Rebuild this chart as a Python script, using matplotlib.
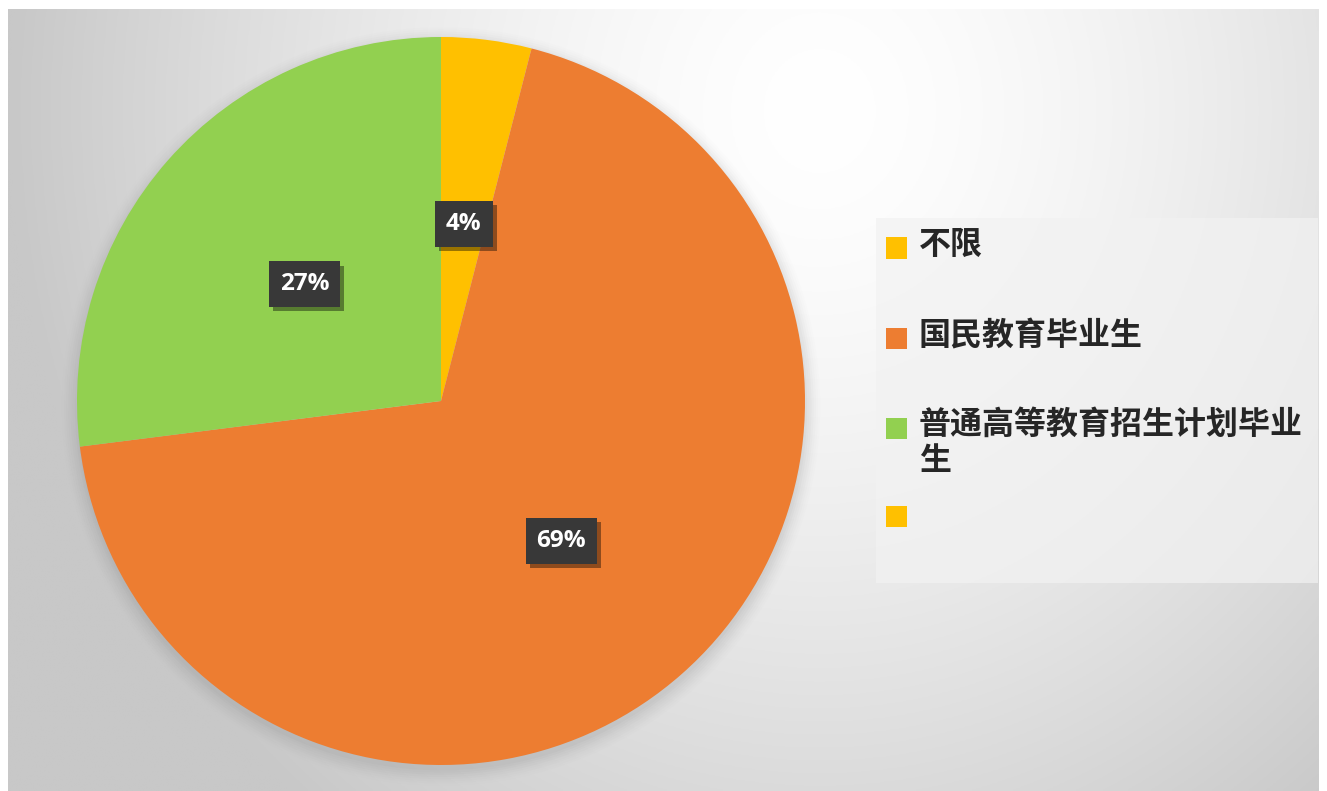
import numpy as np
import matplotlib
matplotlib.use("Agg")
import matplotlib.pyplot as plt
from matplotlib.patches import Rectangle
import matplotlib.patheffects as pe

plt.rcParams['font.family'] = ['Noto Sans CJK SC', 'DejaVu Sans']

# ---- data ----
categories = ["不限", "国民教育毕业生", "普通高等教育招生计划毕业生"]
values = [4, 69, 27]
pct_labels = ["4%", "69%", "27%"]
legend_labels = ["不限", "国民教育毕业生", "普通高等教育招生计划毕业\n生", ""]
colors = ["#FFC000", "#ED7D31", "#92D050"]
legend_colors = ["#FFC000", "#ED7D31", "#92D050", "#FFC000"]

W, H = 1327, 791
fig = plt.figure(figsize=(W / 100, H / 100), dpi=100)
fig.patch.set_facecolor("white")

# ---- background gradient (chart area) ----
x0, y0, x1, y1 = 8, 9, 1319, 791  # pixel box (top-left origin)
bg = fig.add_axes([x0 / W, 1 - y1 / H, (x1 - x0) / W, (y1 - y0) / H])
xs = np.linspace(x0, x1, 400)
ys = np.linspace(y0, y1, 300)
X, Y = np.meshgrid(xs, ys)
r = np.sqrt(((X - 820) / 740) ** 2 + ((Y - 110) / 820) ** 2)
v = 255 - 48 * np.clip(r, 0, 1.3) ** 1.5
v = np.clip(v, 200, 255) / 255.0
img = np.dstack([v, v, v])
bg.imshow(img, extent=[0, 1, 0, 1], aspect="auto", origin="upper")
bg.set_axis_off()

# legend background
bg.add_patch(Rectangle(((876 - x0) / (x1 - x0), 1 - (583 - y0) / (y1 - y0)),
                       (1318 - 876) / (x1 - x0), (583 - 218) / (y1 - y0),
                       transform=bg.transAxes, facecolor="#f2f2f2", alpha=0.7,
                       edgecolor="none", zorder=2))

# ---- pie ----
cx, cy, R = 441, 401, 364
ax = fig.add_axes([(cx - R) / W, 1 - (cy + R) / H, 2 * R / W, 2 * R / H])
ax.patch.set_alpha(0)

# soft shadow
for i, a in enumerate(np.linspace(0.05, 0.012, 8)):
    c = plt.Circle((0.0, -0.015), 1.0 + 0.006 * i, color="#808080",
                   alpha=a, lw=0, zorder=0)
    c.set_clip_on(False)
    ax.add_patch(c)

wedges, _ = ax.pie(values, colors=colors, startangle=90, counterclock=False,
                   radius=1.0, wedgeprops=dict(linewidth=0))
for w in wedges:
    w.set_zorder(2)
ax.set_xlim(-1.0, 1.0)
ax.set_ylim(-1.0, 1.0)
ax.set_aspect("equal")
ax.set_axis_off()

for w, lab in zip(wedges, pct_labels):
    ang = np.deg2rad((w.theta1 + w.theta2) / 2)
    d = 0.5
    t = ax.text(d * np.cos(ang), d * np.sin(ang) - 0.01, lab, ha="center", va="center",
                color="white", fontsize=17.5, fontweight="bold",
                family=["Open Sans", "DejaVu Sans"], zorder=5,
                bbox=dict(boxstyle="square,pad=0.45", facecolor="#383838",
                          edgecolor="none"))
    t.get_bbox_patch().set_path_effects(
        [pe.SimplePatchShadow(offset=(3, -3), shadow_rgbFace="black", alpha=0.4),
         pe.Normal()])

# ---- legend (manual) ----
row_y = [248, 339, 428, 516]
for lab, col, yy in zip(legend_labels, legend_colors, row_y):
    fig.patches.append(Rectangle((886 / W, 1 - (yy + 10.5) / H), 21 / W, 21 / H,
                                 transform=fig.transFigure, facecolor=col,
                                 edgecolor="none"))
    if lab:
        fig.text(919 / W, 1 - (yy - 19) / H, lab, ha="left", va="top",
                 fontsize=23, fontweight="bold", color="#262626",
                 linespacing=1.16)

fig.savefig("out.png", dpi=100)
